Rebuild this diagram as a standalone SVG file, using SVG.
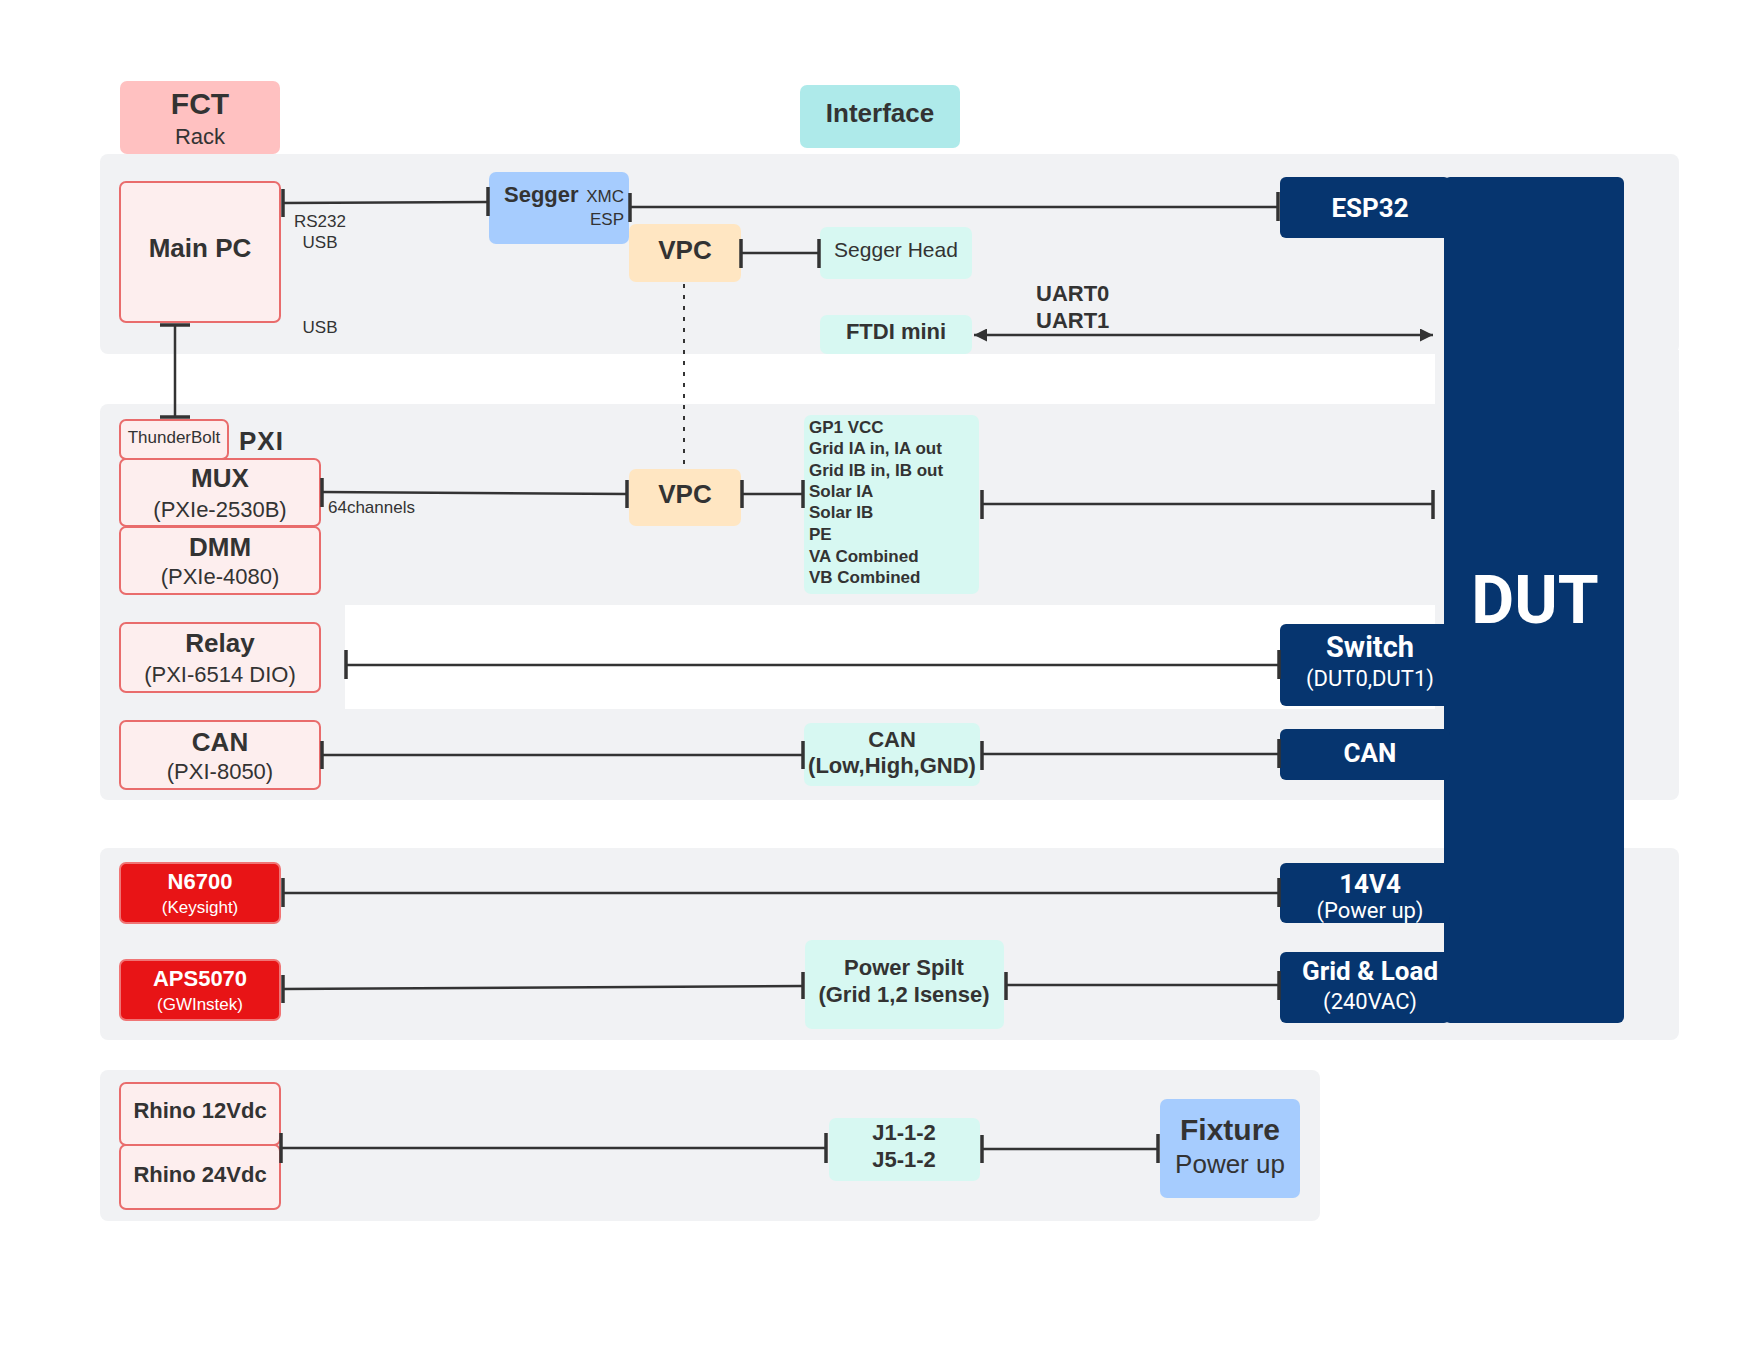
<svg xmlns="http://www.w3.org/2000/svg" width="1760" height="1360" viewBox="0 0 1760 1360">
<defs>
<style>
.panel{fill:#f1f2f4}
.pink{fill:#fdeeee;stroke:#e96c6c;stroke-width:2}
.red{fill:#e81416;stroke:#f07575;stroke-width:2}
.mint{fill:#d7f8f2}
.vpc{fill:#ffe6c2}
.blue{fill:#a6ccfe}
.navy{fill:#06356f}
.t{font-family:"Liberation Sans",Arial,sans-serif;fill:#333333}
.b{font-weight:bold}
.c{text-anchor:middle}
.w{fill:#ffffff}
.r{font-family:Roboto,"Liberation Sans",sans-serif;fill:#ffffff;text-anchor:middle}
.ln{stroke:#333333;stroke-width:2.5;fill:none}
.tk{stroke:#333333;stroke-width:3.5;fill:none}
</style>
<marker id="ah" viewBox="0 0 10 10" refX="10" refY="5" markerWidth="17" markerHeight="13" markerUnits="userSpaceOnUse" orient="auto-start-reverse">
<path d="M0,0 L10,5 L0,10 z" fill="#333333"/>
</marker>
</defs>
<rect width="1760" height="1360" fill="#ffffff"/>

<g id="panels">
<rect class="panel" x="100" y="154" width="1579" height="200" rx="8"/>
<rect class="panel" x="100" y="404" width="1579" height="396" rx="8"/>
<rect class="panel" x="1435" y="350" width="244" height="60"/>
<rect fill="#ffffff" x="345" y="605" width="1090" height="104"/>
<rect class="panel" x="100" y="848" width="1579" height="192" rx="8"/>
<rect class="panel" x="100" y="1070" width="1220" height="151" rx="8"/>
</g>

<g id="fct">
<rect x="120" y="81" width="160" height="73" rx="7" fill="#ffc1c1"/>
<text class="t b c" x="200" y="114" font-size="30">FCT</text>
<text class="t c" x="200" y="144" font-size="22">Rack</text>
</g>
<g id="interface">
<rect x="800" y="85" width="160" height="63" rx="7" fill="#aeeaea"/>
<text class="t b c" x="880" y="122" font-size="26">Interface</text>
</g>

<g id="main-pc">
<rect class="pink" x="120" y="182" width="160" height="140" rx="6"/>
<text class="t b c" x="200" y="257" font-size="26">Main PC</text>
</g>
<g id="segger">
<rect class="blue" x="489" y="172" width="140" height="72" rx="7"/>
<text class="t b" x="504" y="202" font-size="22">Segger</text>
<text class="t" x="624" y="202" font-size="17" text-anchor="end">XMC</text>
<text class="t" x="624" y="225" font-size="17" text-anchor="end">ESP</text>
</g>
<g id="vpc-top">
<rect class="vpc" x="629" y="224" width="112" height="58" rx="7"/>
<text class="t b c" x="685" y="259" font-size="26">VPC</text>
</g>
<g id="segger-head">
<rect class="mint" x="820" y="227" width="152" height="52" rx="7"/>
<text class="t c" x="896" y="257" font-size="21">Segger Head</text>
</g>
<g id="ftdi">
<rect class="mint" x="820" y="315" width="152" height="39" rx="7"/>
<text class="t b c" x="896" y="339" font-size="22">FTDI mini</text>
</g>

<g id="thunderbolt">
<rect class="pink" x="120" y="420" width="108" height="39" rx="6"/>
<text class="t c" x="174" y="443" font-size="17">ThunderBolt</text>
</g>
<g id="pxi-label">
<text class="t b" x="239" y="450" font-size="26" font-family="DejaVu Sans" letter-spacing="1">PXI</text>
</g>
<g id="mux">
<rect class="pink" x="120" y="459" width="200" height="67" rx="6"/>
<text class="t b c" x="220" y="487" font-size="26">MUX</text>
<text class="t c" x="220" y="517" font-size="22">(PXIe-2530B)</text>
</g>
<g id="dmm">
<rect class="pink" x="120" y="527" width="200" height="67" rx="6"/>
<text class="t b c" x="220" y="556" font-size="26">DMM</text>
<text class="t c" x="220" y="584" font-size="22">(PXIe-4080)</text>
</g>
<g id="relay">
<rect class="pink" x="120" y="623" width="200" height="69" rx="6"/>
<text class="t b c" x="220" y="652" font-size="26">Relay</text>
<text class="t c" x="220" y="682" font-size="22">(PXI-6514 DIO)</text>
</g>
<g id="can-pxi">
<rect class="pink" x="120" y="721" width="200" height="68" rx="6"/>
<text class="t b c" x="220" y="751" font-size="26">CAN</text>
<text class="t c" x="220" y="779" font-size="22">(PXI-8050)</text>
</g>
<g id="vpc-mid">
<rect class="vpc" x="629" y="469" width="112" height="57" rx="7"/>
<text class="t b c" x="685" y="503" font-size="26">VPC</text>
</g>
<g id="signals">
<rect class="mint" x="804" y="415" width="175" height="179" rx="7"/>
<text class="t b" x="809" y="433" font-size="17">GP1 VCC</text>
<text class="t b" x="809" y="454" font-size="17">Grid IA in, IA out</text>
<text class="t b" x="809" y="476" font-size="17">Grid IB in, IB out</text>
<text class="t b" x="809" y="497" font-size="17">Solar IA</text>
<text class="t b" x="809" y="518" font-size="17">Solar IB</text>
<text class="t b" x="809" y="540" font-size="17">PE</text>
<text class="t b" x="809" y="562" font-size="17">VA Combined</text>
<text class="t b" x="809" y="583" font-size="17">VB Combined</text>
</g>
<g id="can-iface">
<rect class="mint" x="804" y="723" width="176" height="63" rx="7"/>
<text class="t b c" x="892" y="747" font-size="22">CAN</text>
<text class="t b c" x="892" y="773" font-size="22">(Low,High,GND)</text>
</g>

<g id="dut">
<rect class="navy" x="1444" y="177" width="180" height="846" rx="6"/>
<text class="r" x="1535" y="623" font-size="66" font-weight="bold">DUT</text>
</g>
<g id="esp32">
<rect class="navy" x="1280" y="177" width="170" height="61" rx="6"/>
<text class="r" x="1370" y="217" font-size="26" font-weight="bold">ESP32</text>
</g>
<g id="switch">
<rect class="navy" x="1280" y="624" width="170" height="82" rx="6"/>
<text class="r" x="1370" y="657" font-size="29" font-weight="bold">Switch</text>
<text class="r" x="1370" y="686" font-size="22">(DUT0,DUT1)</text>
</g>
<g id="can-dut">
<rect class="navy" x="1280" y="729" width="170" height="51" rx="6"/>
<text class="r" x="1370" y="762" font-size="26" font-weight="bold">CAN</text>
</g>
<g id="v14">
<rect class="navy" x="1280" y="863" width="170" height="60" rx="6"/>
<text class="r" x="1370" y="893" font-size="26" font-weight="bold">14V4</text>
<text class="r" x="1370" y="918" font-size="22">(Power up)</text>
</g>
<g id="grid-load">
<rect class="navy" x="1280" y="952" width="170" height="71" rx="6"/>
<text class="r" x="1370" y="980" font-size="26" font-weight="bold">Grid &amp; Load</text>
<text class="r" x="1370" y="1009" font-size="22">(240VAC)</text>
</g>

<g id="n6700">
<rect class="red" x="120" y="863" width="160" height="60" rx="6"/>
<text class="t b c w" x="200" y="889" font-size="22">N6700</text>
<text class="t c w" x="200" y="913" font-size="17">(Keysight)</text>
</g>
<g id="aps5070">
<rect class="red" x="120" y="960" width="160" height="60" rx="6"/>
<text class="t b c w" x="200" y="986" font-size="22">APS5070</text>
<text class="t c w" x="200" y="1010" font-size="17">(GWInstek)</text>
</g>
<g id="power-split">
<rect class="mint" x="805" y="940" width="199" height="89" rx="7"/>
<text class="t b c" x="904" y="975" font-size="22">Power Spilt</text>
<text class="t b c" x="904" y="1002" font-size="22">(Grid 1,2 Isense)</text>
</g>

<g id="rhino12">
<rect class="pink" x="120" y="1083" width="160" height="62" rx="6"/>
<text class="t b c" x="200" y="1118" font-size="22">Rhino 12Vdc</text>
</g>
<g id="rhino24">
<rect class="pink" x="120" y="1145" width="160" height="64" rx="6"/>
<text class="t b c" x="200" y="1182" font-size="22">Rhino 24Vdc</text>
</g>
<g id="j1">
<rect class="mint" x="829" y="1118" width="151" height="63" rx="7"/>
<text class="t b c" x="904" y="1140" font-size="22">J1-1-2</text>
<text class="t b c" x="904" y="1167" font-size="22">J5-1-2</text>
</g>
<g id="fixture">
<rect class="blue" x="1160" y="1099" width="140" height="99" rx="7"/>
<text class="t b c" x="1230" y="1140" font-size="30">Fixture</text>
<text class="t c" x="1230" y="1173" font-size="26">Power up</text>
</g>

<g id="connectors">
<line class="ln" x1="283" y1="203" x2="488" y2="202"/>
<line class="tk" x1="283" y1="189" x2="283" y2="217"/>
<line class="tk" x1="488" y1="187" x2="488" y2="216"/>
<text class="t c" x="320" y="227" font-size="17">RS232</text>
<text class="t c" x="320" y="248" font-size="17">USB</text>
<text class="t c" x="320" y="333" font-size="17">USB</text>

<line class="ln" x1="630" y1="207" x2="1278" y2="207"/>
<line class="tk" x1="630" y1="193" x2="630" y2="222"/>
<line class="tk" x1="1278" y1="192" x2="1278" y2="221"/>

<line class="ln" x1="741" y1="253" x2="819" y2="253"/>
<line class="tk" x1="741" y1="239" x2="741" y2="268"/>
<line class="tk" x1="819" y1="239" x2="819" y2="268"/>

<line x1="684" y1="284" x2="684" y2="468" stroke="#333333" stroke-width="2" stroke-dasharray="4,7"/>

<line class="ln" x1="974" y1="335" x2="1433" y2="335" marker-start="url(#ah)" marker-end="url(#ah)"/>
<text class="t b" x="1036" y="301" font-size="22">UART0</text>
<text class="t b" x="1036" y="328" font-size="22">UART1</text>

<line class="ln" x1="175" y1="325" x2="175" y2="417"/>
<line class="tk" x1="160" y1="325" x2="190" y2="325"/>
<line class="tk" x1="160" y1="417" x2="190" y2="417"/>

<line class="ln" x1="322" y1="492" x2="627" y2="494"/>
<line class="tk" x1="322" y1="478" x2="322" y2="507"/>
<line class="tk" x1="627" y1="480" x2="627" y2="508"/>
<text class="t" x="328" y="513" font-size="17">64channels</text>

<line class="ln" x1="742" y1="494" x2="803" y2="494"/>
<line class="tk" x1="742" y1="480" x2="742" y2="508"/>
<line class="tk" x1="803" y1="480" x2="803" y2="508"/>

<line class="ln" x1="982" y1="504" x2="1433" y2="504"/>
<line class="tk" x1="982" y1="490" x2="982" y2="519"/>
<line class="tk" x1="1433" y1="490" x2="1433" y2="519"/>

<line class="ln" x1="346" y1="665" x2="1279" y2="665" stroke-width="2"/>
<line class="tk" x1="346" y1="650" x2="346" y2="679" stroke-width="2.5"/>
<line class="tk" x1="1279" y1="650" x2="1279" y2="679"/>

<line class="ln" x1="322" y1="755" x2="803" y2="755"/>
<line class="tk" x1="322" y1="741" x2="322" y2="769"/>
<line class="tk" x1="803" y1="741" x2="803" y2="769"/>

<line class="ln" x1="982" y1="754" x2="1279" y2="754"/>
<line class="tk" x1="982" y1="741" x2="982" y2="770"/>
<line class="tk" x1="1279" y1="739" x2="1279" y2="768"/>

<line class="ln" x1="283" y1="893" x2="1279" y2="893"/>
<line class="tk" x1="283" y1="878" x2="283" y2="907"/>
<line class="tk" x1="1279" y1="878" x2="1279" y2="907"/>

<line class="ln" x1="283" y1="989" x2="803" y2="986"/>
<line class="tk" x1="283" y1="975" x2="283" y2="1003"/>
<line class="tk" x1="803" y1="972" x2="803" y2="999"/>

<line class="ln" x1="1006" y1="985" x2="1279" y2="985"/>
<line class="tk" x1="1006" y1="972" x2="1006" y2="1000"/>
<line class="tk" x1="1279" y1="971" x2="1279" y2="1000"/>

<line class="ln" x1="281" y1="1148" x2="826" y2="1148"/>
<line class="tk" x1="281" y1="1133" x2="281" y2="1163"/>
<line class="tk" x1="826" y1="1133" x2="826" y2="1163"/>

<line class="ln" x1="982" y1="1149" x2="1158" y2="1149"/>
<line class="tk" x1="982" y1="1135" x2="982" y2="1163"/>
<line class="tk" x1="1158" y1="1134" x2="1158" y2="1163"/>
</g>
</svg>
